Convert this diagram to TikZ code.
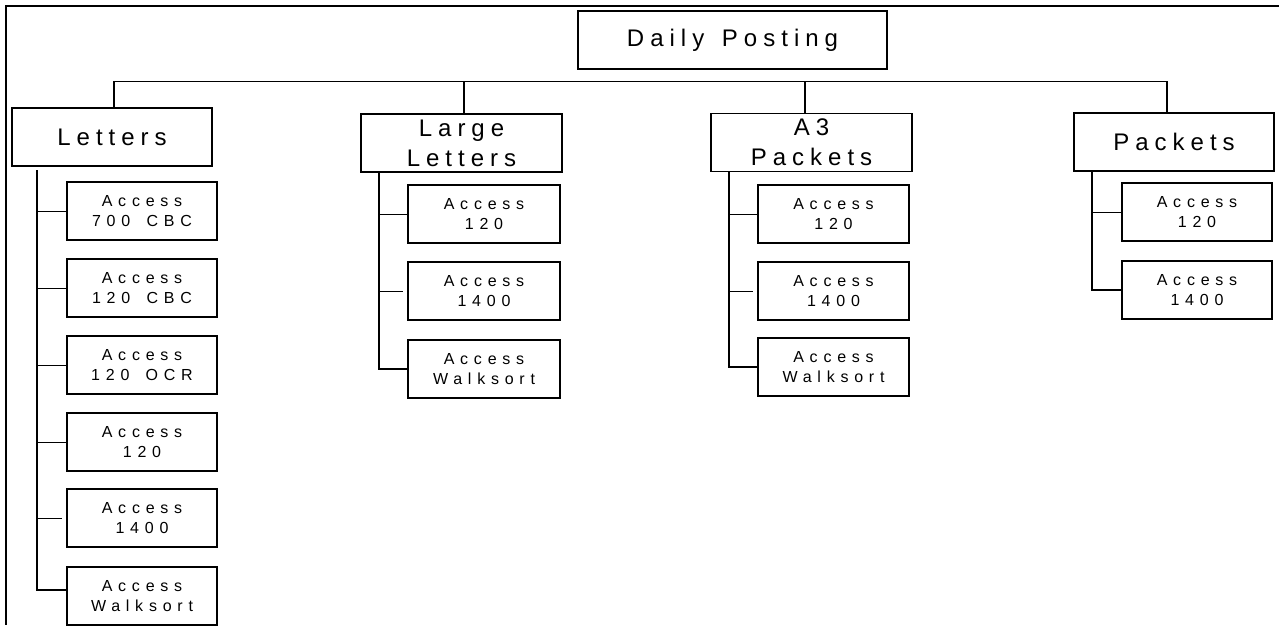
\documentclass[tikz,border=0pt]{standalone}
\usepackage{fontspec}
\setmainfont{Liberation Sans}
\newfontfamily\bigfont[LetterSpace=25,WordSpace=1.4]{Liberation Sans}
\newfontfamily\smallfont[LetterSpace=36,WordSpace=1.6]{Liberation Sans}
\tikzset{
  topbox/.style={draw, line width=1.4pt, minimum width=200pt, minimum height=58pt, inner sep=0pt, align=center,
    font=\bigfont\fontsize{24}{30}\selectfont},
  childbox/.style={draw, line width=1.4pt, minimum width=150pt, minimum height=58pt, inner sep=0pt, align=center,
    font=\smallfont\fontsize{16}{19.5}\selectfont},
  link/.style={line width=1pt},
  stem/.style={line width=1.6pt},
  frame/.style={line width=1.6pt},
  short/.style={shorten >=4pt}
}
\begin{document}
\begin{tikzpicture}[x=1pt,y=-1pt]
\useasboundingbox (0,0) rectangle (1279,625);
% frame (cropped)
\coordinate (fr1) at (1279,6);
\coordinate (fr2) at (6,6);
\coordinate (fr3) at (6,625);
\draw[frame] (fr1) -- (fr2) -- (fr3);

% top
\node[topbox, minimum width=309pt] (dp) at (732.5,40) {Daily Posting};

\node[topbox] (let) at (112,137) {Letters};
\node[topbox, minimum width=201pt] (ll) at (461.5,143) {Large\\Letters};
\node[topbox, minimum width=201pt] (a3) at (811.5,142.5) {A3\\Packets};
\node[topbox] (pk) at (1174,142) {Packets};

% bus
\coordinate (b1) at (114,81);
\coordinate (b2) at (464,81);
\coordinate (b3) at (805,81);
\coordinate (b4) at (1167,81);
\draw[link] (b1) -- (b4);
\draw[stem] (b1) -- (b1 |- let.north);
\draw[stem] (b2) -- (b2 |- ll.north);
\draw[stem] (b3) -- (b3 |- a3.north);
\draw[stem] (b4) -- (b4 |- pk.north);

% Letters children
\node[childbox] (l1) at (142,211) {Access\\700 CBC};
\node[childbox] (l2) at (142,288) {Access\\120 CBC};
\node[childbox] (l3) at (142,365) {Access\\120 OCR};
\node[childbox] (l4) at (142,442) {Access\\120};
\node[childbox] (l5) at (142,518) {Access\\1400};
\node[childbox] (l6) at (142,596) {Access\\Walksort};
\coordinate (s1) at (37,170);
\coordinate (c6) at (67,590);
\draw[stem] (s1) |- (c6);
\foreach \n in {l1,l2,l3,l4}{\draw[link] (s1 |- \n.west) -- (\n.west);}
\draw[link, short] (s1 |- l5.west) -- (l5.west);

% Large Letters children
\node[childbox, minimum width=152pt] (m1) at (484,214) {Access\\120};
\node[childbox, minimum width=152pt] (m2) at (484,291) {Access\\1400};
\node[childbox, minimum width=152pt] (m3) at (484,369) {Access\\Walksort};
\coordinate (s2) at (379,172);
\draw[stem] (s2) |- (m3.west);
\draw[link] (s2 |- m1.west) -- (m1.west);
\draw[link, short] (s2 |- m2.west) -- (m2.west);

% A3 Packets children
\node[childbox, minimum width=151pt] (n1) at (833.5,214) {Access\\120};
\node[childbox, minimum width=151pt] (n2) at (833.5,291) {Access\\1400};
\node[childbox, minimum width=151pt] (n3) at (833.5,367) {Access\\Walksort};
\coordinate (s3) at (729,172);
\draw[stem] (s3) |- (n3.west);
\draw[link] (s3 |- n1.west) -- (n1.west);
\draw[link, short] (s3 |- n2.west) -- (n2.west);

% Packets children
\node[childbox] (p1) at (1197,212) {Access\\120};
\node[childbox] (p2) at (1197,290) {Access\\1400};
\coordinate (s4) at (1092,171);
\draw[stem] (s4) |- (p2.west);
\draw[link] (s4 |- p1.west) -- (p1.west);
\end{tikzpicture}
\end{document}
